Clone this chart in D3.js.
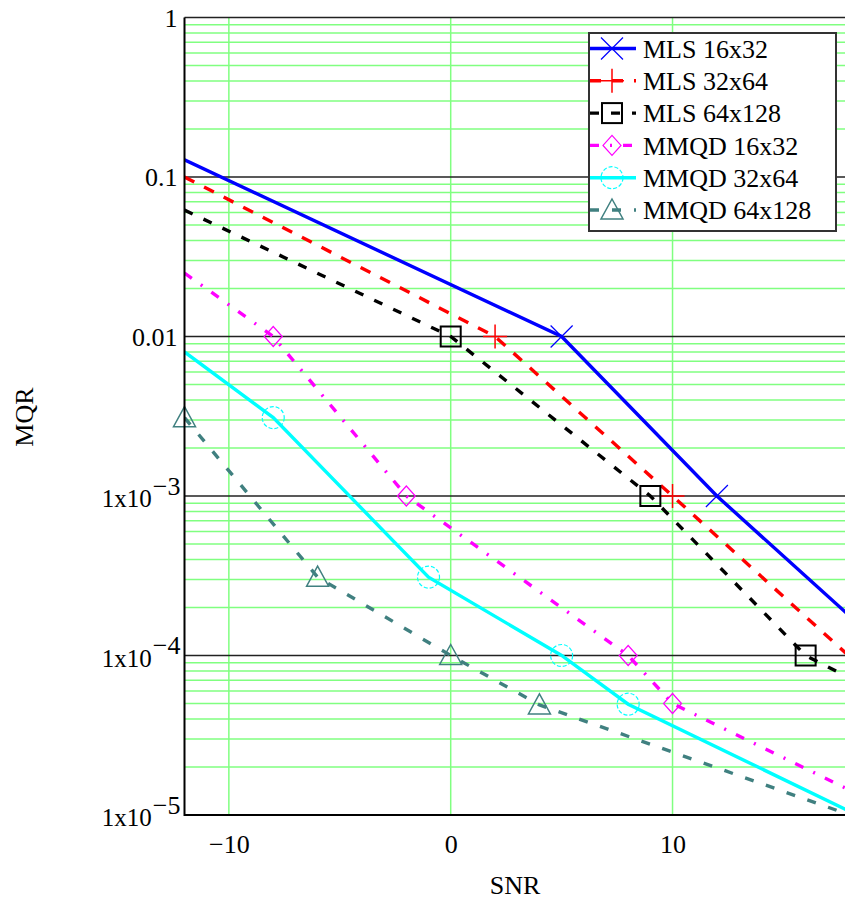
<!DOCTYPE html>
<html>
<head>
<meta charset="utf-8">
<script src="https://cdn.jsdelivr.net/npm/d3@7"></script>
<style>
  body { margin: 0; background: #fff; }
  svg { display: block; font-family: "Liberation Serif", "Times New Roman", serif; }
</style>
</head>
<body>
<svg id="chart" width="845" height="908"></svg>
<script>
// ---- data ----
var snrTicks = [-10, 0, 10];
var mqrDecades = [1, 0.1, 0.01, 1e-3, 1e-4, 1e-5];
var mqrPlainLabels = ["1", "0.1", "0.01"];

var seriesNames = ["MLS 16x32", "MLS 32x64", "MLS 64x128", "MMQD 16x32", "MMQD 32x64", "MMQD 64x128"];

var mls16Snr = [-12, 5, 12, 18];
var mls16Mqr = [0.128, 0.01, 1e-3, 1.76e-4];
var mls16Marks = [5, 12];

var mls32Snr = [-12, 2, 10, 18];
var mls32Mqr = [0.1, 0.01, 1e-3, 9.8e-5];
var mls32Marks = [2, 10];

var mls64Snr = [-12, 0, 9, 16, 18];
var mls64Mqr = [0.062, 0.01, 1e-3, 1e-4, 7.2e-5];
var mls64Marks = [0, 9, 16];

var mmqd16Snr = [-12, -8, -2, 8, 10, 18];
var mmqd16Mqr = [0.025, 0.01, 1e-3, 1e-4, 5e-5, 1.43e-5];
var mmqd16Marks = [-8, -2, 8, 10];

var mmqd32Snr = [-12, -8, -1, 5, 8, 18];
var mmqd32Mqr = [0.008, 3.1e-3, 3.1e-4, 1e-4, 4.95e-5, 1.05e-5];
var mmqd32Marks = [-8, -1, 5, 8];

var mmqd64Snr = [-12, -6, 0, 4, 18];
var mmqd64Mqr = [3.1e-3, 3.1e-4, 1e-4, 4.9e-5, 1e-5];
var mmqd64Marks = [-12, -6, 0, 4];

// ---- styles ----
var styles = [
  {color: "#0000ff", dash: null,           marker: "x"},
  {color: "#ff0000", dash: "11,11",        marker: "plus"},
  {color: "#000000", dash: "9,12",         marker: "square"},
  {color: "#ff00ff", dash: "9,11,2,11",    marker: "diamond"},
  {color: "#00ffff", dash: null,           marker: "circle"},
  {color: "#408080", dash: "9,13",         marker: "triangle"}
];

function zip(snr, mqr){
  return snr.map(function(s, i){ return {snr: s, mqr: mqr[i]}; });
}

var series = [
  {pts: zip(mls16Snr, mls16Mqr), marks: mls16Marks},
  {pts: zip(mls32Snr, mls32Mqr), marks: mls32Marks},
  {pts: zip(mls64Snr, mls64Mqr), marks: mls64Marks},
  {pts: zip(mmqd16Snr, mmqd16Mqr), marks: mmqd16Marks},
  {pts: zip(mmqd32Snr, mmqd32Mqr), marks: mmqd32Marks},
  {pts: zip(mmqd64Snr, mmqd64Mqr), marks: mmqd64Marks}
];

var svg = d3.select("#chart");
//note: "top" is taken by window.top, so plot edges get their own names
var plotL = 184.5, plotR = 850, plotT = 17.5, plotB = 815;

var x = d3.scaleLinear().domain([-12, 18]).range([plotL, plotR]);
var y = d3.scaleLog().domain([1e-5, 1]).range([plotB, plotT]);

svg.append("clipPath").attr("id", "plotclip")
  .append("rect")
  .attr("x", plotL).attr("y", plotT)
  .attr("width", plotR - plotL).attr("height", plotB - plotT);

// minor grid (green), 2..9 of each decade
var minor = y.ticks().filter(function(v){
  var l = Math.log10(v);
  return Math.abs(l - Math.round(l)) > 1e-6;
});
svg.append("g").selectAll("line")
  .data(minor).enter().append("line")
  .attr("x1", plotL).attr("x2", plotR)
  .attr("y1", function(d){ return y(d); })
  .attr("y2", function(d){ return y(d); })
  .style("stroke", "#80ff80").style("stroke-width", 1.5);

// vertical grid (green)
svg.append("g").selectAll("line")
  .data(snrTicks).enter().append("line")
  .attr("x1", function(d){ return x(d); })
  .attr("x2", function(d){ return x(d); })
  .attr("y1", plotT).attr("y2", plotB)
  .style("stroke", "#80ff80").style("stroke-width", 1.5);

// decade lines (black)
svg.append("g").selectAll("line")
  .data(mqrDecades).enter().append("line")
  .attr("x1", plotL).attr("x2", plotR)
  .attr("y1", function(d){ return y(d); })
  .attr("y2", function(d){ return y(d); })
  .style("stroke", "#222").style("stroke-width", 1.5);

// series lines
var line = d3.line()
  .x(function(d){ return x(d.snr); })
  .y(function(d){ return y(d.mqr); });

var plot = svg.append("g").attr("clip-path", "url(#plotclip)");
series.forEach(function(s, i){
  plot.append("path")
    .datum(s.pts)
    .attr("d", line)
    .style("fill", "none")
    .style("stroke", styles[i].color)
    .style("stroke-width", 3.4)
    .style("stroke-dasharray", styles[i].dash);
});

//marker shapes, drawn around (0,0)
function drawMarker(g, kind, color){
  if (kind === "x") {
    g.append("path").attr("d", "M-11,-11L11,11M-11,11L11,-11")
      .style("stroke", color).style("stroke-width", 1.2).style("fill", "none");
  } else if (kind === "plus") {
    g.append("path").attr("d", "M-12,0L12,0M0,-12L0,12")
      .style("stroke", color).style("stroke-width", 1.5).style("fill", "none");
  } else if (kind === "square") {
    g.append("rect").attr("x", -10).attr("y", -10).attr("width", 20).attr("height", 20)
      .style("stroke", color).style("stroke-width", 2).style("fill", "none");
  } else if (kind === "diamond") {
    g.append("path").attr("d", "M0,-10L9,0L0,10L-9,0Z")
      .style("stroke", color).style("stroke-width", 1.2).style("fill", "none");
  } else if (kind === "circle") {
    g.append("circle").attr("r", 11)
      .style("stroke", color).style("stroke-width", 1.2).style("fill", "none")
      .style("stroke-dasharray", "4,2");
  } else if (kind === "triangle") {
    g.append("path").attr("d", "M0,-11L11,9L-11,9Z")
      .style("stroke", color).style("stroke-width", 1.5).style("fill", "none");
  }
}

series.forEach(function(s, i){
  var pts = s.pts.filter(function(p){ return s.marks.indexOf(p.snr) >= 0; });
  pts.forEach(function(p){
    var g = svg.append("g")
      .attr("transform", "translate(" + x(p.snr) + "," + y(p.mqr) + ")");
    drawMarker(g, styles[i].marker, styles[i].color);
  });
});

// axes border
svg.append("line").attr("x1", plotL).attr("x2", plotL).attr("y1", plotT).attr("y2", plotB + 1)
  .style("stroke", "#000").style("stroke-width", 2);
svg.append("line").attr("x1", plotL).attr("x2", plotR).attr("y1", plotB).attr("y2", plotB)
  .style("stroke", "#000").style("stroke-width", 2);

// x axis labels
var xAxis = d3.axisBottom(x).tickValues(snrTicks).tickSize(0).tickPadding(20);
var gx = svg.append("g").attr("transform", "translate(0," + plotB + ")").call(xAxis);
gx.select(".domain").remove();
gx.selectAll("text").style("font-size", "26px").style("font-family", "Liberation Serif").style("fill", "#000");

// y axis labels
var yAxis = d3.axisLeft(y).tickValues(mqrDecades).tickSize(0).tickPadding(7).tickFormat("");
var gy = svg.append("g").attr("transform", "translate(" + plotL + ",0)").call(yAxis);
gy.select(".domain").remove();
gy.selectAll(".tick text").each(function(d, i){
  var t = d3.select(this)
    .style("font-family", "Liberation Serif").style("fill", "#000")
    .attr("dy", null);
  if (i < mqrPlainLabels.length) {
    t.style("font-size", "26px").attr("dy", "0.33em").text(mqrPlainLabels[i]);
  } else {
    // 1x10 with a full size exponent raised above it
    var ex = Math.round(Math.log10(d));
    t.attr("x", -4).attr("dy", "0.42em").style("font-size", "25px");
    t.append("tspan").text("1x10");
    t.append("tspan").attr("dy", "-0.48em").attr("dx", "1").style("font-size", "26px").text("\u2212" + Math.abs(ex));
  }
});

// axis titles
svg.append("text")
  .attr("x", 515).attr("y", 894)
  .attr("text-anchor", "middle")
  .style("font-size", "26px")
  .text("SNR");

svg.append("text")
  .attr("transform", "translate(33,417) rotate(-90)")
  .attr("text-anchor", "middle")
  .style("font-size", "26px")
  .text("MQR");

// legend
var legend = svg.append("g");
legend.append("rect")
  .attr("x", 589).attr("y", 33).attr("width", 247).attr("height", 198)
  .style("fill", "#fff").style("stroke", "#333").style("stroke-width", 2);

seriesNames.forEach(function(name, i){
  var ry = 48.5 + i * 32.3;
  legend.append("line")
    .attr("x1", 590).attr("x2", 636).attr("y1", ry).attr("y2", ry)
    .style("stroke", styles[i].color).style("stroke-width", 3.4)
    .style("stroke-dasharray", styles[i].dash);
  var g = legend.append("g").attr("transform", "translate(612," + ry + ")");
  drawMarker(g, styles[i].marker, styles[i].color);
  legend.append("text")
    .attr("x", 643).attr("y", ry).attr("dy", "0.35em")
    .style("font-size", "26px")
    .text(name);
});
</script>
</body>
</html>
